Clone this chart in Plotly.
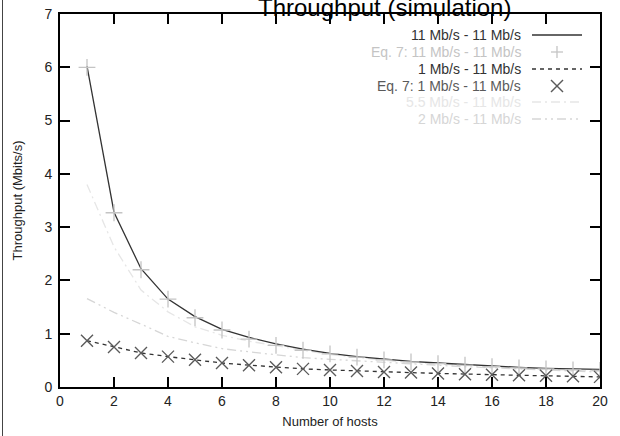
import plotly.graph_objects as go

hosts = list(range(1, 21))
sim_11 = [6.02, 3.28, 2.22, 1.65, 1.32, 1.08, 0.93, 0.81, 0.71, 0.63,
          0.57, 0.52, 0.48, 0.45, 0.42, 0.39, 0.37, 0.35, 0.34, 0.33]
eq7_11 = [6.00, 3.27, 2.20, 1.65, 1.30, 1.07, 0.90, 0.78, 0.69, 0.62,
          0.56, 0.51, 0.47, 0.44, 0.41, 0.38, 0.36, 0.34, 0.32, 0.31]
sim_1 = [0.87, 0.75, 0.64, 0.57, 0.51, 0.45, 0.41, 0.37, 0.34, 0.32,
         0.30, 0.28, 0.27, 0.255, 0.24, 0.23, 0.22, 0.21, 0.20, 0.19]
eq7_1 = [0.87, 0.75, 0.64, 0.57, 0.51, 0.45, 0.41, 0.37, 0.34, 0.32,
         0.30, 0.28, 0.27, 0.255, 0.24, 0.23, 0.22, 0.21, 0.20, 0.19]
sim_55 = [3.80, 2.63, 1.82, 1.41, 1.13, 0.97, 0.86, 0.77, 0.69, 0.61,
          0.55, 0.50, 0.46, 0.43, 0.40, 0.37, 0.35, 0.33, 0.31, 0.30]
sim_2 = [1.66, 1.40, 1.18, 0.95, 0.83, 0.72, 0.66, 0.60, 0.55, 0.52,
         0.49, 0.46, 0.43, 0.40, 0.38, 0.36, 0.34, 0.32, 0.30, 0.28]

legend_labels = ["11 Mb/s - 11 Mb/s", "Eq. 7: 11 Mb/s - 11 Mb/s", "1 Mb/s - 11 Mb/s",
                 "Eq. 7: 1 Mb/s - 11 Mb/s", "5.5 Mb/s - 11 Mb/s", "2 Mb/s - 11 Mb/s"]
title_text = "Throughput (simulation)"
x_title = "Number of hosts"
y_title = "Throughput (Mbits/s)"

FONT = "Liberation Sans, Arial, sans-serif"
C_DARK = "#333333"
C_PLUS = "#c4c4c4"
C_X = "#5a5a5a"
C_55 = "#e6e6e6"
C_2 = "#d6d6d6"

fig = go.Figure()
fig.add_trace(go.Scatter(x=hosts, y=sim_55, mode="lines",
                         line=dict(color=C_55, width=1.3, dash="9px,4px,2px,4px"), showlegend=False))
fig.add_trace(go.Scatter(x=hosts, y=sim_2, mode="lines",
                         line=dict(color=C_2, width=1.3, dash="9px,4px,2px,4px,2px,4px"), showlegend=False))
fig.add_trace(go.Scatter(x=hosts, y=sim_11, mode="lines",
                         line=dict(color=C_DARK, width=1.3), showlegend=False))
fig.add_trace(go.Scatter(x=hosts, y=eq7_11, mode="markers",
                         marker=dict(symbol="cross-thin", size=12, color=C_PLUS,
                                     line=dict(color=C_PLUS, width=1.3)), showlegend=False))
fig.add_trace(go.Scatter(x=hosts, y=sim_1, mode="lines",
                         line=dict(color=C_DARK, width=1.3, dash="4px,4px"), showlegend=False))
fig.add_trace(go.Scatter(x=hosts, y=eq7_1, mode="markers",
                         marker=dict(symbol="x-thin", size=12, color=C_X,
                                     line=dict(color=C_X, width=1.4)), showlegend=False))

# gnuplot-style key: right-aligned text with sample on the right
row_y = [35, 52, 69, 86, 102, 119]
text_colors = [C_DARK, C_PLUS, C_DARK, C_X, C_55, C_2]
H0, H1 = 14, 387
def py(p):
    return (H1 - p) / (H1 - H0)
X0, X1 = 60, 600
def px(p):
    return (p - X0) / (X1 - X0)

shapes = []
annotations = []
for lab, col, ry in zip(legend_labels, text_colors, row_y):
    annotations.append(dict(text=lab, x=px(523), y=py(ry), xref="paper", yref="paper",
                            xanchor="right", yanchor="middle", showarrow=False,
                            font=dict(family=FONT, size=14, color=col)))
line_styles = {0: ("solid", C_DARK), 2: ("4px,4px", C_DARK), 4: ("9px,4px,2px,4px", C_55),
               5: ("9px,4px,2px,4px,2px,4px", C_2)}
for i, (dash, col) in line_styles.items():
    shapes.append(dict(type="line", xref="paper", yref="paper",
                       x0=px(532), x1=px(582), y0=py(row_y[i]), y1=py(row_y[i]),
                       line=dict(color=col, width=1.3, dash=dash)))
# plus sample
cx, cy = 557, row_y[1]
shapes.append(dict(type="line", xref="paper", yref="paper", x0=px(cx - 6), x1=px(cx + 6),
                   y0=py(cy), y1=py(cy), line=dict(color=C_PLUS, width=1.3)))
shapes.append(dict(type="line", xref="paper", yref="paper", x0=px(cx), x1=px(cx),
                   y0=py(cy - 6), y1=py(cy + 6), line=dict(color=C_PLUS, width=1.3)))
# x sample
cy = row_y[3]
shapes.append(dict(type="line", xref="paper", yref="paper", x0=px(cx - 6), x1=px(cx + 6),
                   y0=py(cy - 6), y1=py(cy + 6), line=dict(color=C_X, width=1.4)))
shapes.append(dict(type="line", xref="paper", yref="paper", x0=px(cx - 6), x1=px(cx + 6),
                   y0=py(cy + 6), y1=py(cy - 6), line=dict(color=C_X, width=1.4)))
# left page edge line
shapes.append(dict(type="line", xref="paper", yref="paper", x0=px(2.5), x1=px(2.5),
                   y0=py(436), y1=py(0), line=dict(color="#444444", width=1)))

annotations.append(dict(text=title_text, x=px(384), y=1, xref="paper", yref="paper",
                        xanchor="center", yanchor="bottom", yshift=-9, showarrow=False,
                        font=dict(family=FONT, size=24, color="#000000")))

fig.update_layout(
    width=620, height=436,
    margin=dict(l=60, r=20, t=14, b=49, autoexpand=False),
    paper_bgcolor="white", plot_bgcolor="white",
    font=dict(family=FONT, size=14, color="#222222"),
    shapes=shapes, annotations=annotations,
    showlegend=False,
)
fig.update_xaxes(range=[0, 20], dtick=2, tick0=0, ticks="inside", ticklen=10, tickwidth=2,
                 tickcolor="black", showline=True, linecolor="black", linewidth=2,
                 mirror="ticks", showgrid=False, zeroline=False, automargin=False,
                 tickfont=dict(family=FONT, size=14, color="#222222"),
                 title=dict(text=x_title, font=dict(family=FONT, size=13, color="#222222"), standoff=9))
fig.update_yaxes(range=[0, 7], dtick=1, tick0=0, ticks="inside", ticklen=10, tickwidth=2,
                 tickcolor="black", showline=True, linecolor="black", linewidth=2,
                 mirror="ticks", showgrid=False, zeroline=False, automargin=False,
                 ticklabelstandoff=3,
                 tickfont=dict(family=FONT, size=14, color="#222222"),
                 title=dict(text=y_title, font=dict(family=FONT, size=13, color="#222222"), standoff=19))

fig.write_html("out.html", config={"displayModeBar": False},
               post_script="document.body.style.margin='0px';")
